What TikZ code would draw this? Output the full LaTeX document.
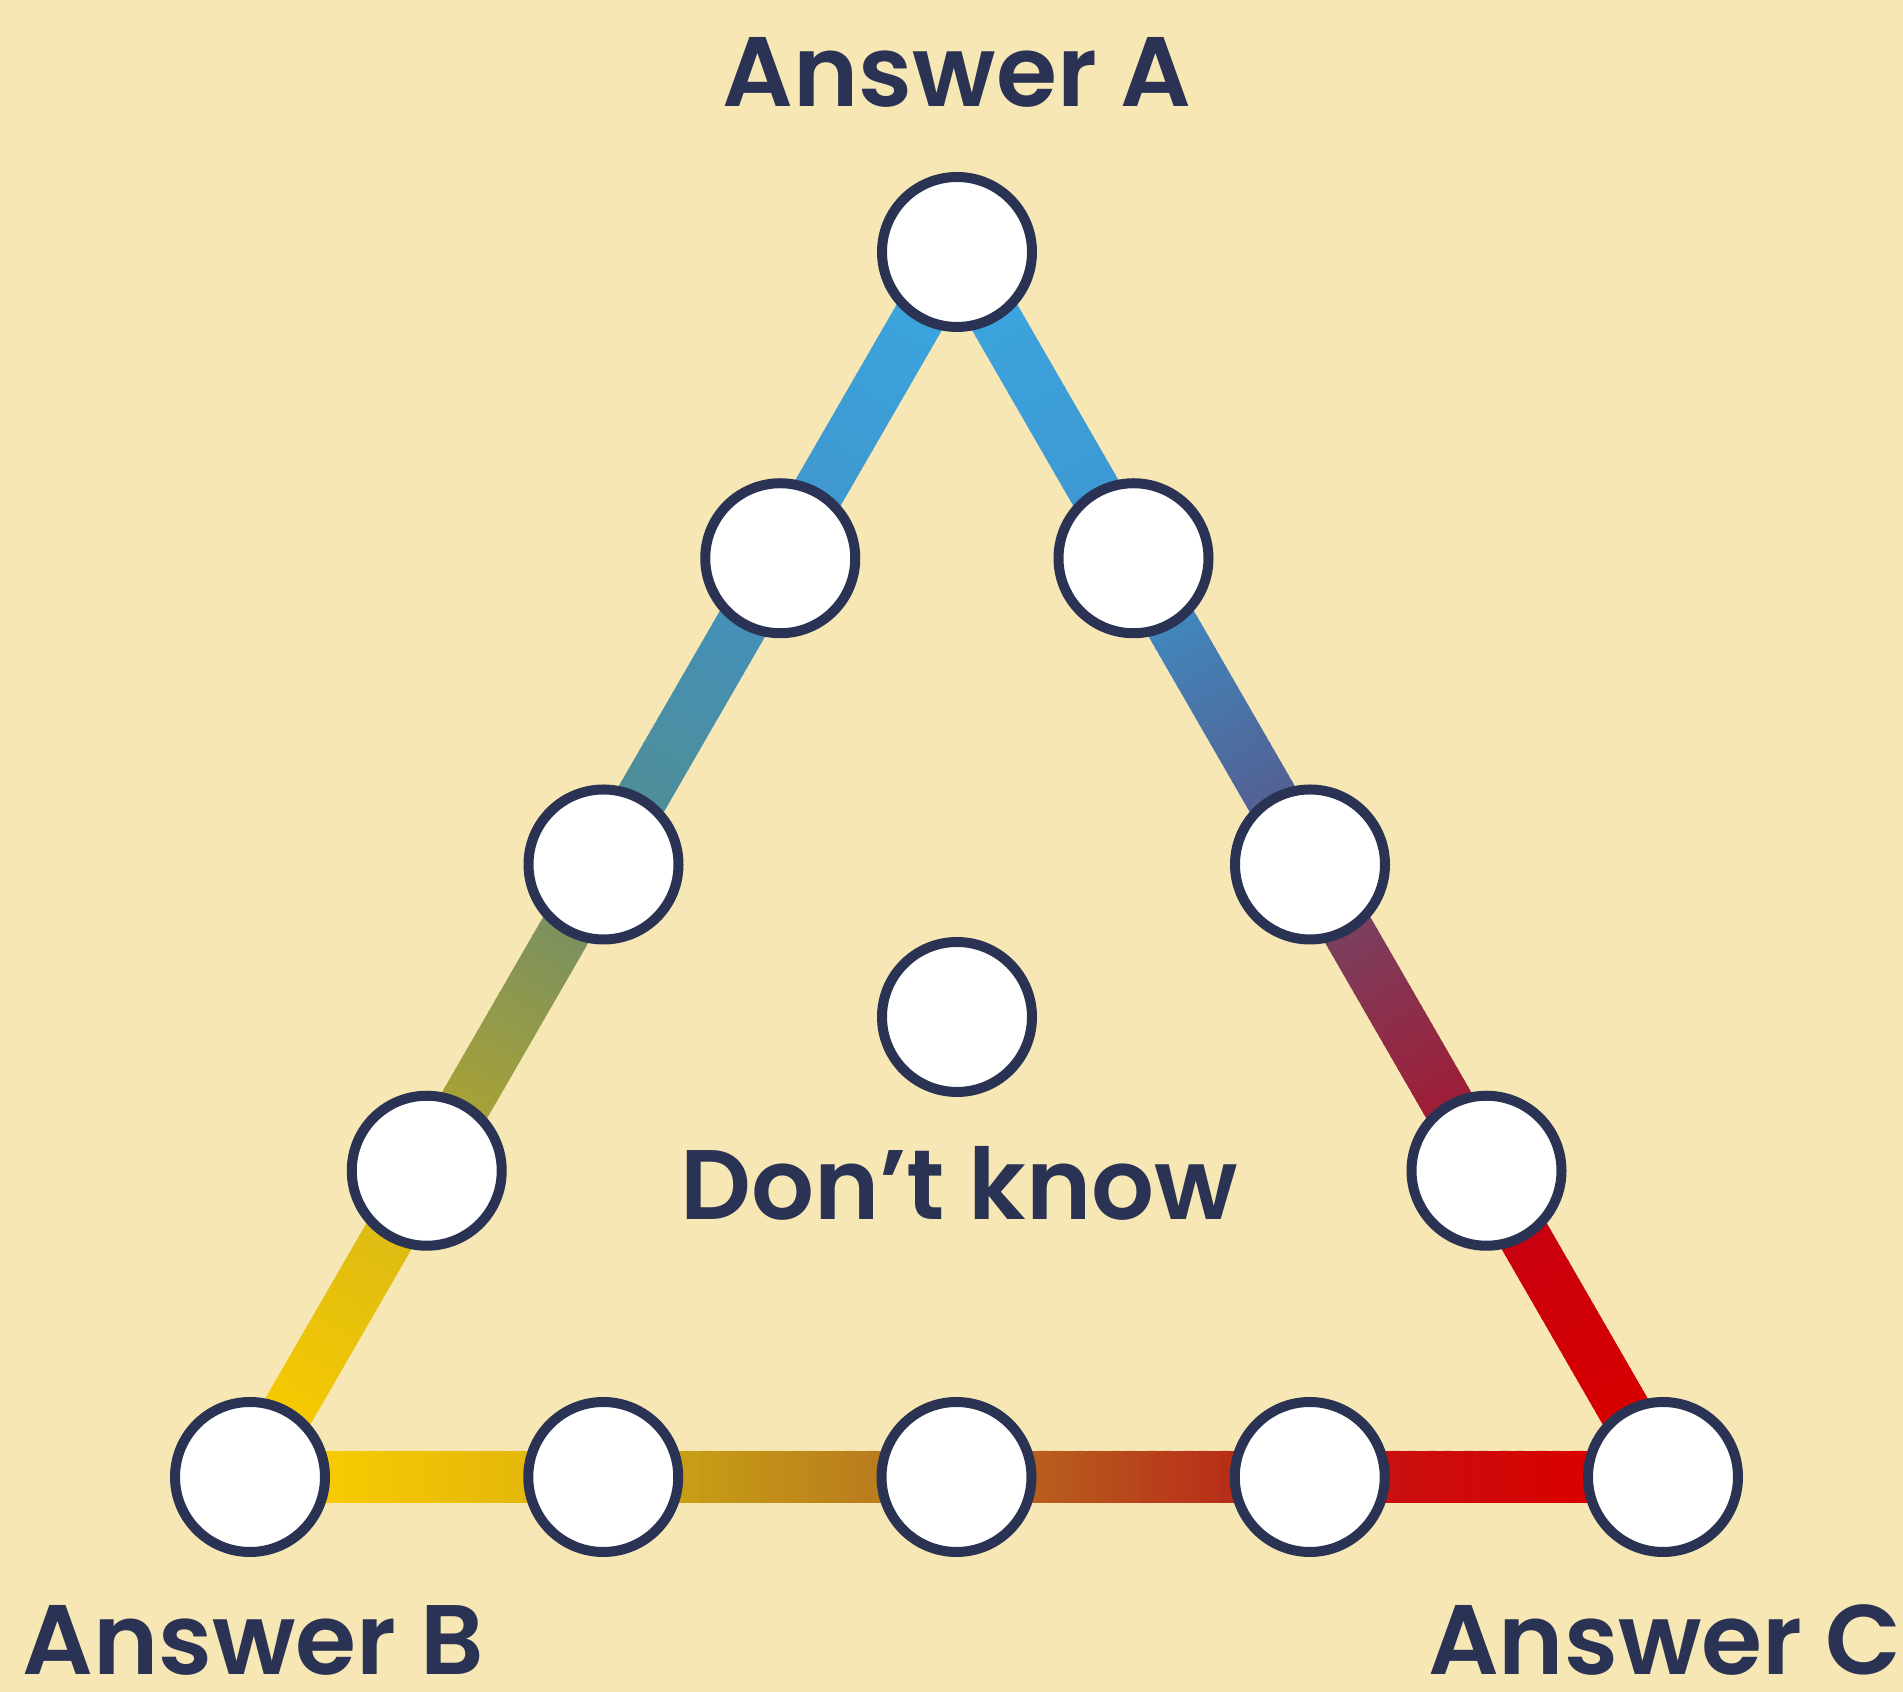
\documentclass[tikz,border=0pt]{standalone}
\usepackage{fontspec}
\setmainfont{Poppins}[BoldFont={Poppins SemiBold}]
\usetikzlibrary{calc}
\definecolor{bgc}{HTML}{F6E7B5}
\definecolor{navy}{HTML}{2A3354}
\pgfdeclarelayer{back}
\pgfdeclarelayer{lines}
\pgfsetlayers{back,lines,main}
\tikzset{
  dot/.style={circle, draw=navy, line width=5pt, fill=white, minimum size=75pt, inner sep=0pt},
  bar/.style={line width=26pt, line cap=butt},
  lbl/.style={anchor=base, text=navy, font=\bfseries\fontsize{49.4}{52}\selectfont, inner sep=0pt}
}
\newcommand{\gradbar}[4]{%
  \foreach \i in {0,...,29}{%
    \pgfmathsetmacro\ta{0.19+0.62*\i/30}%
    \pgfmathsetmacro\tb{0.19+0.62*(\i+1)/30+0.004}%
    \pgfmathsetmacro\pc{100*(\i+0.5)/30}%
    \draw[bar, color=#4!\pc!#3] ($(#1)!\ta!(#2)$) -- ($(#1)!\tb!(#2)$);
  }}
% edge colours
\definecolor{la1}{HTML}{3CA4DE}\definecolor{la2}{HTML}{3F98CE}
\definecolor{lb1}{HTML}{4490BA}\definecolor{lb2}{HTML}{4E8E96}
\definecolor{lc1}{HTML}{7A9060}\definecolor{lc2}{HTML}{A8A236}
\definecolor{ld1}{HTML}{DDBB14}\definecolor{ld2}{HTML}{F6C900}
\definecolor{ra1}{HTML}{3CA4DE}\definecolor{ra2}{HTML}{3D98D2}
\definecolor{rb1}{HTML}{4088BE}\definecolor{rb2}{HTML}{545F92}
\definecolor{rc1}{HTML}{7A4060}\definecolor{rc2}{HTML}{A01C35}
\definecolor{rd1}{HTML}{C8000E}\definecolor{rd2}{HTML}{D80000}
\definecolor{ba1}{HTML}{F8CB00}\definecolor{ba2}{HTML}{E3B70A}
\definecolor{bb1}{HTML}{C9A015}\definecolor{bb2}{HTML}{B87A1E}
\definecolor{bc1}{HTML}{B8621E}\definecolor{bc2}{HTML}{B82A18}
\definecolor{bd1}{HTML}{C81010}\definecolor{bd2}{HTML}{DA0000}
\begin{document}
\begin{tikzpicture}[x=0.5pt,y=0.5pt]
\begin{pgfonlayer}{back}
\fill[bgc] (0,0) rectangle (1903,1692);
\end{pgfonlayer}
\useasboundingbox (0,0) rectangle (1903,1692);
% corner and side dots
\node[dot] (nA) at (957,1440) {};
\node[dot] (nB) at (250,215) {};
\node[dot] (nC) at (1663,215) {};
\node[dot] (nL1) at ($(nA)!0.25!(nB)$) {};
\node[dot] (nL2) at ($(nA)!0.5!(nB)$) {};
\node[dot] (nL3) at ($(nA)!0.75!(nB)$) {};
\node[dot] (nR1) at ($(nA)!0.25!(nC)$) {};
\node[dot] (nR2) at ($(nA)!0.5!(nC)$) {};
\node[dot] (nR3) at ($(nA)!0.75!(nC)$) {};
\node[dot] (nM1) at ($(nB)!0.25!(nC)$) {};
\node[dot] (nM2) at ($(nB)!0.5!(nC)$) {};
\node[dot] (nM3) at ($(nB)!0.75!(nC)$) {};
\node[dot] (nD) at (957,675) {};
% labels
\node[lbl] (tA) at (957,1585) {Answer A};
\node[lbl] (tB) at (253,17) {Answer B};
\node[lbl] (tC) at (1665,17) {Answer C};
\node[lbl] (tD) at (959,472) {Don’t know};
% gradient connectors
\begin{pgfonlayer}{lines}
\gradbar{nA}{nL1}{la1}{la2}
\gradbar{nL1}{nL2}{lb1}{lb2}
\gradbar{nL2}{nL3}{lc1}{lc2}
\gradbar{nL3}{nB}{ld1}{ld2}
\gradbar{nA}{nR1}{ra1}{ra2}
\gradbar{nR1}{nR2}{rb1}{rb2}
\gradbar{nR2}{nR3}{rc1}{rc2}
\gradbar{nR3}{nC}{rd1}{rd2}
\gradbar{nB}{nM1}{ba1}{ba2}
\gradbar{nM1}{nM2}{bb1}{bb2}
\gradbar{nM2}{nM3}{bc1}{bc2}
\gradbar{nM3}{nC}{bd1}{bd2}
\end{pgfonlayer}
\end{tikzpicture}
\end{document}
